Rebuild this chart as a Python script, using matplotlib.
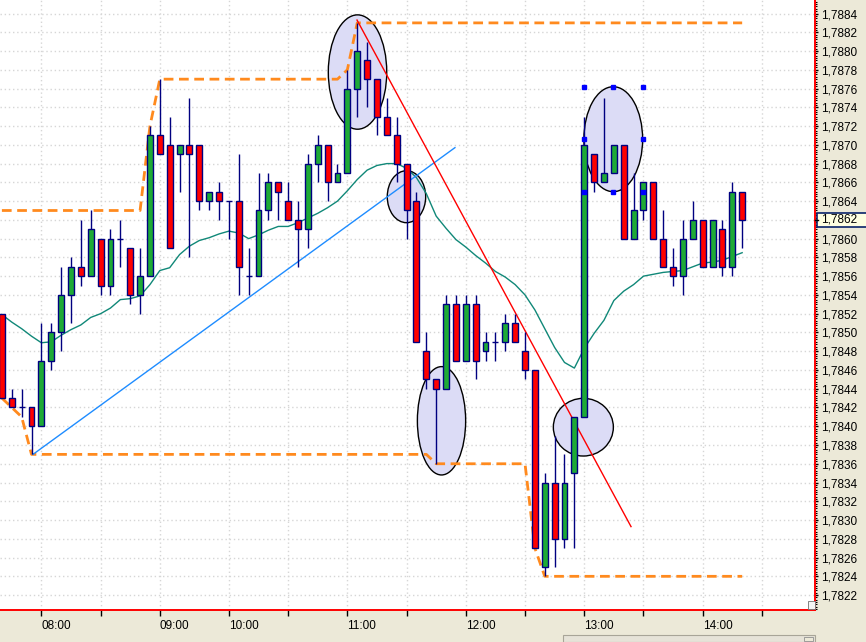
import matplotlib
matplotlib.use('Agg')
import matplotlib.pyplot as plt
import matplotlib.ticker as mticker
import matplotlib.transforms as mtransforms
from matplotlib.patches import Rectangle, Ellipse

# 5-minute candles (EUR-style quote, 4 decimals)
opens = [1.7852, 1.7843, 1.7842, 1.7842, 1.7840, 1.7847, 1.7850, 1.7854, 1.7857, 1.7856,
         1.7860, 1.7855, 1.7860, 1.7859, 1.7854, 1.7856, 1.7871, 1.7870, 1.7869, 1.7870,
         1.7870, 1.7864, 1.7865, 1.7864, 1.7864, 1.7856, 1.7856, 1.7863, 1.7866, 1.7864,
         1.7862, 1.7861, 1.7868, 1.7870, 1.7866, 1.7867, 1.7876, 1.7879, 1.7877, 1.7873,
         1.7871, 1.7868, 1.7864, 1.7848, 1.7845, 1.7844, 1.7853, 1.7847, 1.7853, 1.7848,
         1.7849, 1.7849, 1.7851, 1.7848, 1.7846, 1.7825, 1.7834, 1.7828, 1.7835, 1.7841,
         1.7869, 1.7866, 1.7867, 1.7870, 1.7860, 1.7863, 1.7866, 1.7860, 1.7857, 1.7856,
         1.7860, 1.7862, 1.7857, 1.7861, 1.7857, 1.7865]
highs = [1.7852, 1.7844, 1.7844, 1.7842, 1.7851, 1.7851, 1.7857, 1.7858, 1.7862, 1.7863,
         1.7860, 1.7861, 1.7862, 1.7859, 1.7859, 1.7872, 1.7877, 1.7873, 1.7870, 1.7875,
         1.7870, 1.7865, 1.7866, 1.7864, 1.7869, 1.7859, 1.7867, 1.7867, 1.7866, 1.7866,
         1.7864, 1.7869, 1.7871, 1.7870, 1.7868, 1.7878, 1.7883, 1.7881, 1.7877, 1.7875,
         1.7873, 1.7868, 1.7865, 1.7850, 1.7845, 1.7854, 1.7854, 1.7854, 1.7854, 1.7850,
         1.7850, 1.7852, 1.7852, 1.7850, 1.7846, 1.7835, 1.7839, 1.7837, 1.7841, 1.7873,
         1.7869, 1.7875, 1.7870, 1.7870, 1.7867, 1.7866, 1.7866, 1.7863, 1.7859, 1.7862,
         1.7864, 1.7862, 1.7862, 1.7862, 1.7866, 1.7865]
lows = [1.7843, 1.7842, 1.7841, 1.7837, 1.7840, 1.7846, 1.7848, 1.7851, 1.7855, 1.7856,
        1.7854, 1.7854, 1.7857, 1.7853, 1.7852, 1.7856, 1.7869, 1.7859, 1.7865, 1.7858,
        1.7863, 1.7863, 1.7862, 1.7860, 1.7854, 1.7854, 1.7856, 1.7862, 1.7862, 1.7862,
        1.7857, 1.7859, 1.7866, 1.7864, 1.7866, 1.7867, 1.7873, 1.7874, 1.7871, 1.7871,
        1.7866, 1.7860, 1.7849, 1.7844, 1.7836, 1.7844, 1.7847, 1.7847, 1.7845, 1.7847,
        1.7847, 1.7848, 1.7849, 1.7845, 1.7827, 1.7824, 1.7825, 1.7827, 1.7827, 1.7841,
        1.7865, 1.7866, 1.7867, 1.7860, 1.7860, 1.7862, 1.7860, 1.7857, 1.7855, 1.7854,
        1.7860, 1.7857, 1.7857, 1.7856, 1.7856, 1.7859]
closes = [1.7843, 1.7842, 1.7842, 1.7840, 1.7847, 1.7850, 1.7854, 1.7857, 1.7856, 1.7861,
          1.7855, 1.7860, 1.7860, 1.7854, 1.7856, 1.7871, 1.7869, 1.7859, 1.7870, 1.7869,
          1.7864, 1.7865, 1.7864, 1.7864, 1.7857, 1.7856, 1.7863, 1.7866, 1.7865, 1.7862,
          1.7861, 1.7868, 1.7870, 1.7866, 1.7867, 1.7876, 1.7880, 1.7877, 1.7873, 1.7871,
          1.7868, 1.7863, 1.7849, 1.7845, 1.7844, 1.7853, 1.7847, 1.7853, 1.7847, 1.7849,
          1.7849, 1.7851, 1.7849, 1.7846, 1.7827, 1.7834, 1.7828, 1.7834, 1.7841, 1.7870,
          1.7866, 1.7867, 1.7870, 1.7860, 1.7863, 1.7866, 1.7860, 1.7857, 1.7856, 1.7860,
          1.7862, 1.7857, 1.7862, 1.7857, 1.7865, 1.7862]

# moving average
ma = [1.78519, 1.78511, 1.78504, 1.78496, 1.78489, 1.78490, 1.78497, 1.78503, 1.78508, 1.78516,
      1.78520, 1.78526, 1.78535, 1.78536, 1.78539, 1.78551, 1.78566, 1.78569, 1.78583, 1.78592,
      1.78598, 1.78601, 1.78605, 1.78608, 1.78606, 1.78600, 1.78604, 1.78609, 1.78613, 1.78613,
      1.78617, 1.78622, 1.78627, 1.78633, 1.78640, 1.78651, 1.78663, 1.78673, 1.78678, 1.78680,
      1.78680, 1.78675, 1.78665, 1.78648, 1.78624, 1.78611, 1.78599, 1.78591, 1.78582, 1.78574,
      1.78565, 1.78559, 1.78551, 1.78540, 1.78524, 1.78504, 1.78484, 1.78468, 1.78462, 1.78483,
      1.78499, 1.78513, 1.78534, 1.78544, 1.78551, 1.78560, 1.78562, 1.78564, 1.78565, 1.78566,
      1.78570, 1.78574, 1.78575, 1.78577, 1.78581, 1.78585]

# high / low channel (orange dashed), as break points
upper_idx = [0, 14, 15, 16, 34, 35, 36, 75]
upper_val = [1.7863, 1.7863, 1.7872, 1.7877, 1.7877, 1.7878, 1.7883, 1.7883]
lower_idx = [0, 1, 2, 3, 43, 44, 53, 54, 55, 75]
lower_val = [1.7843, 1.7842, 1.7841, 1.7837, 1.7837, 1.7836, 1.7836, 1.7827, 1.7824, 1.7824]

# hand drawn trend lines
blue_line_x = [3.15, 45.9]
blue_line_y = [1.78370, 1.78697]
red_line_x = [35.98, 63.74]
red_line_y = [1.78833, 1.78293]

# circled areas: (center idx, center price, width idx, height price)
ellipses = [(36.03, 1.787776, 5.92, 0.001219),
            (40.99, 1.786447, 3.89, 0.000554),
            (44.54, 1.784058, 4.89, 0.001155),
            (58.91, 1.783990, 6.08, 0.000615),
            (61.94, 1.787060, 5.95, 0.001119)]

tick_idx = [4, 10, 16, 23, 29, 35, 41, 47, 53, 59, 65, 71, 77]
tick_labels = ['08:00', '', '09:00', '10:00', '', '11:00', '', '12:00', '', '13:00', '', '14:00', '']

last_price = 1.7862

plt.rcParams['font.family'] = ['Liberation Sans', 'DejaVu Sans']

fig = plt.figure(figsize=(8.66, 6.42), dpi=100, facecolor='#ECE9D8')
ax = fig.add_axes([0, 32 / 642, 815 / 866, 610 / 642])
ax.set_facecolor('white')
ax.set_xlim(-0.1925, 82.38)
ax.set_ylim(1.782041, 1.788544)

# grid
ax.set_axisbelow(True)
ax.grid(True, which='major', color='#D6D6D6', linestyle=(0, (1, 2)), linewidth=1)

# circles
for cx, cy, w, h in ellipses:
    ax.add_patch(Ellipse((cx, cy), w, h, facecolor='#DCDCF6', edgecolor='black',
                         linewidth=1, zorder=1))

# selection handles of the last ellipse
cx, cy, w, h = ellipses[-1]
hx = [cx - w / 2, cx, cx + w / 2, cx - w / 2, cx + w / 2, cx - w / 2, cx, cx + w / 2]
hy = [cy + h / 2] * 3 + [cy] * 2 + [cy - h / 2] * 3
ax.plot(hx, hy, 's', color='#0000FF', markersize=3, zorder=8)

# channel lines
ax.plot(upper_idx, upper_val, color='#FF8A1E', linewidth=2, linestyle=(0, (3.5, 2)), zorder=2)
ax.plot(lower_idx, lower_val, color='#FF8A1E', linewidth=2, linestyle=(0, (3.5, 2)), zorder=2)

# moving average
ax.plot(range(len(ma)), ma, color='#108878', linewidth=1, zorder=2)

# trend lines
ax.plot(blue_line_x, blue_line_y, color='#1E8CFF', linewidth=1, zorder=2)
ax.plot(red_line_x, red_line_y, color='#FF0000', linewidth=1, zorder=2)

# candles
bw = 0.6
for i, (o, h, l, c) in enumerate(zip(opens, highs, lows, closes)):
    ax.vlines(i, l, h, color='#000080', linewidth=1, zorder=3)
    if o == c:
        ax.hlines(o, i - bw / 2, i + bw / 2, color='#000080', linewidth=1, zorder=4)
    else:
        col = '#1EAA36' if c > o else '#FF0000'
        ax.add_patch(Rectangle((i - bw / 2, min(o, c)), bw, abs(c - o), facecolor=col,
                               edgecolor='#000080', linewidth=1, zorder=4))

# axes styling
for side in ['top', 'left']:
    ax.spines[side].set_visible(False)
for side in ['right', 'bottom']:
    ax.spines[side].set_color('#FF0000')
    ax.spines[side].set_linewidth(1.4)

ax.set_xticks(tick_idx)
ax.set_xticklabels(tick_labels)
for lbl in ax.get_xticklabels():
    lbl.set_horizontalalignment('left')
ax.tick_params(axis='x', direction='out', length=4.5, width=1, color='black', pad=3,
               labelsize=8.5, labelcolor='black')

ax.yaxis.tick_right()
ax.yaxis.set_major_locator(mticker.MultipleLocator(0.0002))
ax.yaxis.set_minor_locator(mticker.MultipleLocator(0.000025))
ax.yaxis.set_major_formatter(mticker.FuncFormatter(lambda v, _: f"{v:.4f}".replace('.', ',')))
ax.tick_params(axis='y', which='major', direction='out', length=2.5, width=1, color='black',
               pad=1.5, labelsize=8.5)
ax.tick_params(axis='y', which='minor', direction='out', length=1.2, width=0.8, color='black')

# last price marker on the scale
trans = mtransforms.blended_transform_factory(ax.transAxes, ax.transData)
ax.add_patch(Rectangle((1.0025, last_price - 0.000078), 0.07, 0.000156, transform=trans,
                       facecolor='#FFFFE1', edgecolor='#0A246A', linewidth=1.2,
                       clip_on=False, zorder=9))
ax.plot([1.0, 1.0042], [last_price, last_price], transform=trans, color='black',
        linewidth=1, clip_on=False, zorder=10)
ax.text(1.0078, last_price, f"{last_price:.4f}".replace('.', ','), transform=trans,
        fontsize=8.5, va='center', ha='left', clip_on=False, zorder=10)

# bottom scrollbar and corner box
fig.add_artist(Rectangle((563 / 866, 0), 252 / 866, 7 / 642, transform=fig.transFigure,
                         facecolor='#E6E3D8', edgecolor='#A8A598', linewidth=0.8))
fig.add_artist(Rectangle((804 / 866, 1 / 642), 9 / 866, 4 / 642, transform=fig.transFigure,
                         facecolor='#ECE9D8', edgecolor='#909090', linewidth=0.6))
fig.add_artist(Rectangle((808 / 866, 33 / 642), 7 / 866, 8 / 642, transform=fig.transFigure,
                         facecolor='#F4F4F4', edgecolor='#707070', linewidth=0.6))

fig.savefig('out.png', dpi=100, facecolor=fig.get_facecolor())
